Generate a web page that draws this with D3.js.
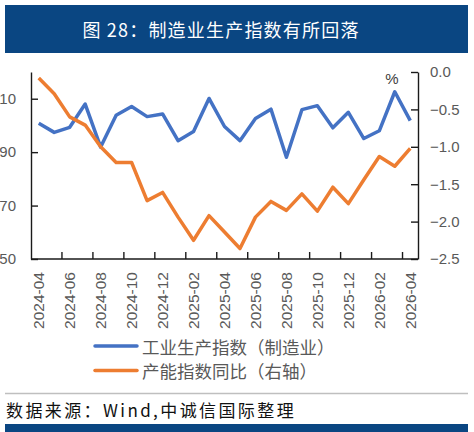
<!DOCTYPE html>
<html>
<head>
<meta charset="utf-8">
<script src="https://cdn.jsdelivr.net/npm/d3@7"></script>
<style>
  body { margin: 0; background: #fff; }
  svg { display: block; }
</style>
</head>
<body>
<svg id="chart" width="474" height="432"></svg>
<script>
// months (category axis)
const months = [
  "2024-04", "2024-05", "2024-06", "2024-07", "2024-08", "2024-09", "2024-10",
  "2024-11", "2024-12", "2025-01", "2025-02", "2025-03", "2025-04", "2025-05",
  "2025-06", "2025-07", "2025-08", "2025-09", "2025-10", "2025-11", "2025-12",
  "2026-01", "2026-02", "2026-03", "2026-04"
];

// 工业生产指数（制造业）, left axis
const prodIndex = [
  100.8, 97.4, 99.3, 108.0, 91.9, 103.8, 107.1, 103.3, 104.3, 94.3, 97.7, 110.1,
  99.6, 94.3, 102.6, 106.1, 88.1, 105.9, 107.4, 99.1, 104.9, 95.1, 98.0, 112.6, 101.8
];

// 产能指数同比（右轴）, %
const capYoY = [
  -0.08, -0.29, -0.6, -0.71, -1.0, -1.21, -1.21, -1.72, -1.61, -1.94, -2.25, -1.92,
  -2.14, -2.36, -1.94, -1.73, -1.85, -1.63, -1.86, -1.54, -1.76, -1.44, -1.13, -1.26, -1.02
];

const leftTicks = [50, 70, 90, 110];
const rightTicks = [0.0, -0.5, -1.0, -1.5, -2.0, -2.5];

const series = [
  { name: "工业生产指数（制造业）", color: "#4472c4" },
  { name: "产能指数同比（右轴）", color: "#ed7d31" }
];

const svg = d3.select("#chart");
const cjk = "'Noto Sans CJK SC', 'Noto Sans', sans-serif";
const num = "'Liberation Sans', Arial, sans-serif";
const gray = "#595959";

const plot = { left: 31, right: 418, top: 72, bottom: 259 };

// title bar
svg.append("rect")
  .attr("x", 5).attr("y", 5).attr("width", 463).attr("height", 48)
  .attr("fill", "#0a4682");
svg.append("text")
  .attr("x", 221).attr("y", 29)
  .attr("text-anchor", "middle")
  .attr("dominant-baseline", "central")
  .attr("fill", "#fff")
  .style("font-family", cjk)
  .style("font-size", "18px")
  .style("letter-spacing", "1.2px")
  .text("图 28：制造业生产指数有所回落");

const x = d3.scaleBand().domain(months).range([plot.left, plot.right]);
const yL = d3.scaleLinear().domain([50, 120]).range([plot.bottom, plot.top]);
const yR = d3.scaleLinear().domain([-2.5, 0]).range([plot.bottom, plot.top]);

const axisColor = "#1a1a1a";

// left axis (labels clipped by the page edge, as in the source image)
const gl = svg.append("g").attr("transform", `translate(${plot.left},0)`)
  .call(d3.axisLeft(yL).tickValues(leftTicks).tickSizeInner(-7).tickSizeOuter(0));
// right axis
const gr = svg.append("g").attr("transform", `translate(${plot.right},0)`)
  .call(d3.axisRight(yR).tickValues(rightTicks).tickSizeInner(-7).tickSizeOuter(0)
    .tickFormat(d3.format(".1f")));

[gl, gr].forEach((g) => {
  g.select(".domain").attr("stroke", axisColor).attr("stroke-width", 1.4);
  g.selectAll(".tick line").attr("stroke", axisColor).attr("stroke-width", 1.4);
  g.selectAll(".tick text")
    .attr("fill", gray)
    .style("font-family", num)
    .style("font-size", "15px");
});
gl.selectAll(".tick text").attr("x", -15);
gr.selectAll(".tick text").attr("x", 12);

// bottom axis
const gx = svg.append("g");
gx.append("line")
  .attr("x1", plot.left).attr("x2", plot.right)
  .attr("y1", plot.bottom).attr("y2", plot.bottom)
  .attr("stroke", axisColor).attr("stroke-width", 1.4);
gx.selectAll("line.tk")
  .data(months.filter((d, i) => i > 0 && i % 2 === 0))
  .join("line")
  .attr("class", "tk")
  .attr("x1", (d) => x(d)).attr("x2", (d) => x(d))
  .attr("y1", plot.bottom).attr("y2", plot.bottom - 7)
  .attr("stroke", axisColor).attr("stroke-width", 1.4);
gx.selectAll("text")
  .data(months.filter((d, i) => i % 2 === 0))
  .join("text")
  .attr("transform", (d) => `translate(${x(d) + x.bandwidth() / 2},${plot.bottom + 13}) rotate(-90)`)
  .attr("text-anchor", "end")
  .attr("dominant-baseline", "central")
  .attr("fill", gray)
  .style("font-family", num)
  .style("font-size", "15.5px")
  .text((d) => d);

// % unit
svg.append("text")
  .attr("x", 392).attr("y", 78)
  .attr("text-anchor", "middle")
  .attr("dominant-baseline", "central")
  .attr("fill", "#404040")
  .style("font-family", num)
  .style("font-size", "15px")
  .text("%");

// lines
const cx = (d) => x(d) + x.bandwidth() / 2;
const lineL = d3.line().x((d, i) => cx(months[i])).y((d) => yL(d));
const lineR = d3.line().x((d, i) => cx(months[i])).y((d) => yR(d));

svg.append("path").datum(prodIndex)
  .attr("d", lineL)
  .attr("fill", "none")
  .attr("stroke", series[0].color)
  .attr("stroke-width", 3.5)
  .attr("stroke-linejoin", "round");

svg.append("path").datum(capYoY)
  .attr("d", lineR)
  .attr("fill", "none")
  .attr("stroke", series[1].color)
  .attr("stroke-width", 3.5)
  .attr("stroke-linejoin", "round");

// legend
const lg = svg.append("g").selectAll("g")
  .data(series)
  .join("g")
  .attr("transform", (d, i) => `translate(95,${346 + i * 24.5})`);
lg.append("line")
  .attr("x1", 0).attr("x2", 42)
  .attr("stroke", (d) => d.color)
  .attr("stroke-width", 3.5)
  .attr("stroke-linecap", "round");
lg.append("text")
  .attr("x", 47)
  .attr("dominant-baseline", "central")
  .attr("fill", gray)
  .style("font-family", cjk)
  .style("font-size", "17.5px")
  .text((d) => d.name);

// footer
svg.append("line")
  .attr("x1", 5).attr("x2", 468)
  .attr("y1", 393.5).attr("y2", 393.5)
  .attr("stroke", "#bfbfbf").attr("stroke-width", 1.5);
svg.append("text")
  .attr("x", 6).attr("y", 409)
  .attr("dominant-baseline", "central")
  .attr("fill", "#111")
  .style("font-family", cjk)
  .style("font-size", "17px")
  .style("letter-spacing", "2.4px")
  .text("数据来源：Wind,中诚信国际整理");
svg.append("rect")
  .attr("x", 5).attr("y", 424).attr("width", 463).attr("height", 8)
  .attr("fill", "#0a4682");
</script>
</body>
</html>
